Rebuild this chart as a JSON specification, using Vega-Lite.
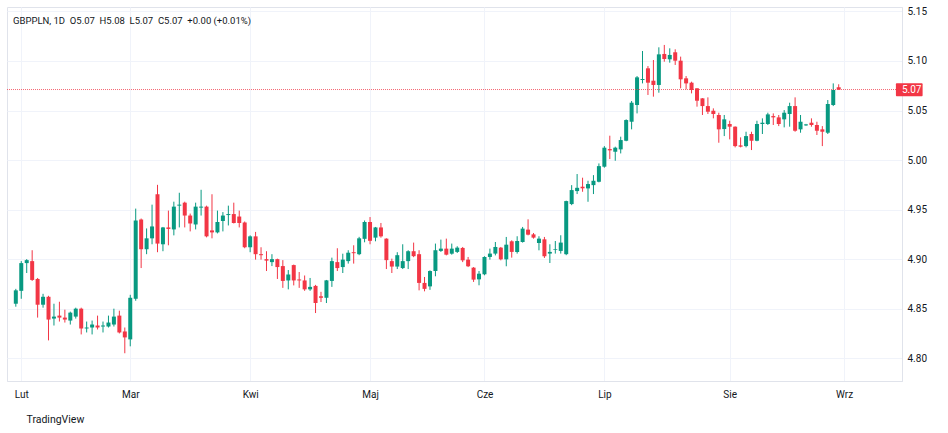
{
  "$schema": "https://vega.github.io/schema/vega-lite/v6.json",
  "width": 895,
  "height": 374,
  "autosize": "none",
  "padding": {"left": 7, "top": 7, "right": 46, "bottom": 52},
  "background": "white",
  "title": {
    "text": "GBPPLN, 1D\u00a0 O5.07\u00a0 H5.08\u00a0 L5.07\u00a0 C5.07\u00a0 +0.00 (+0.01%)",
    "anchor": "start",
    "frame": "group",
    "orient": "top",
    "offset": -19,
    "dx": 6,
    "font": "Roboto",
    "fontSize": 9.5,
    "fontWeight": "normal",
    "color": "#131722"
  },
  "data": {"values": [
    {"i":0,"d":"2026-01-30","o":4.855,"h":4.87,"l":4.852,"c":4.8685},
    {"i":1,"d":"2026-02-02","o":4.868,"h":4.898,"l":4.86,"c":4.896},
    {"i":2,"d":"2026-02-03","o":4.896,"h":4.9,"l":4.886,"c":4.899},
    {"i":3,"d":"2026-02-04","o":4.898,"h":4.909,"l":4.878,"c":4.879},
    {"i":4,"d":"2026-02-05","o":4.88,"h":4.881,"l":4.841,"c":4.854},
    {"i":5,"d":"2026-02-06","o":4.854,"h":4.865,"l":4.851,"c":4.862},
    {"i":6,"d":"2026-02-09","o":4.862,"h":4.863,"l":4.818,"c":4.839},
    {"i":7,"d":"2026-02-10","o":4.84,"h":4.855,"l":4.833,"c":4.842},
    {"i":8,"d":"2026-02-11","o":4.843,"h":4.857,"l":4.837,"c":4.841},
    {"i":9,"d":"2026-02-12","o":4.841,"h":4.849,"l":4.836,"c":4.839},
    {"i":10,"d":"2026-02-13","o":4.838,"h":4.847,"l":4.834,"c":4.846},
    {"i":11,"d":"2026-02-16","o":4.842,"h":4.851,"l":4.84,"c":4.85},
    {"i":12,"d":"2026-02-17","o":4.85,"h":4.851,"l":4.824,"c":4.83},
    {"i":13,"d":"2026-02-18","o":4.83,"h":4.837,"l":4.826,"c":4.831},
    {"i":14,"d":"2026-02-19","o":4.831,"h":4.838,"l":4.824,"c":4.834},
    {"i":15,"d":"2026-02-20","o":4.833,"h":4.843,"l":4.829,"c":4.831},
    {"i":16,"d":"2026-02-23","o":4.832,"h":4.837,"l":4.826,"c":4.833},
    {"i":17,"d":"2026-02-24","o":4.832,"h":4.843,"l":4.831,"c":4.836},
    {"i":18,"d":"2026-02-25","o":4.834,"h":4.85,"l":4.832,"c":4.842},
    {"i":19,"d":"2026-02-26","o":4.843,"h":4.848,"l":4.825,"c":4.826},
    {"i":20,"d":"2026-02-27","o":4.827,"h":4.831,"l":4.805,"c":4.821},
    {"i":21,"d":"2026-03-02","o":4.819,"h":4.864,"l":4.812,"c":4.861},
    {"i":22,"d":"2026-03-03","o":4.86,"h":4.951,"l":4.858,"c":4.939},
    {"i":23,"d":"2026-03-04","o":4.94,"h":4.941,"l":4.891,"c":4.91},
    {"i":24,"d":"2026-03-05","o":4.91,"h":4.931,"l":4.905,"c":4.921},
    {"i":25,"d":"2026-03-06","o":4.921,"h":4.955,"l":4.915,"c":4.933},
    {"i":26,"d":"2026-03-09","o":4.9655,"h":4.975,"l":4.907,"c":4.9157},
    {"i":27,"d":"2026-03-10","o":4.915,"h":4.9325,"l":4.908,"c":4.932},
    {"i":28,"d":"2026-03-11","o":4.932,"h":4.949,"l":4.914,"c":4.9305},
    {"i":29,"d":"2026-03-12","o":4.93,"h":4.958,"l":4.924,"c":4.953},
    {"i":30,"d":"2026-03-13","o":4.954,"h":4.967,"l":4.932,"c":4.955},
    {"i":31,"d":"2026-03-16","o":4.957,"h":4.958,"l":4.932,"c":4.944},
    {"i":32,"d":"2026-03-17","o":4.944,"h":4.946,"l":4.928,"c":4.936},
    {"i":33,"d":"2026-03-18","o":4.935,"h":4.957,"l":4.93,"c":4.953},
    {"i":34,"d":"2026-03-19","o":4.952,"h":4.97,"l":4.944,"c":4.953},
    {"i":35,"d":"2026-03-20","o":4.953,"h":4.954,"l":4.922,"c":4.923},
    {"i":36,"d":"2026-03-23","o":4.929,"h":4.9655,"l":4.921,"c":4.927},
    {"i":37,"d":"2026-03-24","o":4.927,"h":4.949,"l":4.926,"c":4.9375},
    {"i":38,"d":"2026-03-25","o":4.9385,"h":4.9475,"l":4.928,"c":4.944},
    {"i":39,"d":"2026-03-26","o":4.9445,"h":4.954,"l":4.934,"c":4.9455},
    {"i":40,"d":"2026-03-27","o":4.9455,"h":4.957,"l":4.936,"c":4.9365},
    {"i":41,"d":"2026-03-30","o":4.943,"h":4.949,"l":4.932,"c":4.9365},
    {"i":42,"d":"2026-03-31","o":4.937,"h":4.938,"l":4.911,"c":4.912},
    {"i":43,"d":"2026-04-01","o":4.912,"h":4.924,"l":4.907,"c":4.923},
    {"i":44,"d":"2026-04-02","o":4.923,"h":4.9275,"l":4.8995,"c":4.905},
    {"i":45,"d":"2026-04-03","o":4.905,"h":4.912,"l":4.8995,"c":4.904},
    {"i":46,"d":"2026-04-06","o":4.9,"h":4.908,"l":4.888,"c":4.8985},
    {"i":47,"d":"2026-04-07","o":4.897,"h":4.905,"l":4.893,"c":4.9},
    {"i":48,"d":"2026-04-08","o":4.9,"h":4.9005,"l":4.88,"c":4.892},
    {"i":49,"d":"2026-04-09","o":4.893,"h":4.899,"l":4.871,"c":4.878},
    {"i":50,"d":"2026-04-10","o":4.8785,"h":4.889,"l":4.8695,"c":4.8845},
    {"i":51,"d":"2026-04-13","o":4.894,"h":4.8945,"l":4.8735,"c":4.8785},
    {"i":52,"d":"2026-04-14","o":4.8795,"h":4.887,"l":4.871,"c":4.8785},
    {"i":53,"d":"2026-04-15","o":4.8785,"h":4.8835,"l":4.868,"c":4.8695},
    {"i":54,"d":"2026-04-16","o":4.8695,"h":4.881,"l":4.868,"c":4.872},
    {"i":55,"d":"2026-04-17","o":4.873,"h":4.874,"l":4.8456,"c":4.8557},
    {"i":56,"d":"2026-04-20","o":4.8625,"h":4.867,"l":4.8567,"c":4.861},
    {"i":57,"d":"2026-04-21","o":4.861,"h":4.879,"l":4.8557,"c":4.8786},
    {"i":58,"d":"2026-04-22","o":4.878,"h":4.9015,"l":4.872,"c":4.898},
    {"i":59,"d":"2026-04-23","o":4.897,"h":4.911,"l":4.888,"c":4.891},
    {"i":60,"d":"2026-04-24","o":4.892,"h":4.9055,"l":4.886,"c":4.8995},
    {"i":61,"d":"2026-04-27","o":4.898,"h":4.909,"l":4.8955,"c":4.9065},
    {"i":62,"d":"2026-04-28","o":4.907,"h":4.914,"l":4.8955,"c":4.906},
    {"i":63,"d":"2026-04-29","o":4.905,"h":4.9225,"l":4.904,"c":4.921},
    {"i":64,"d":"2026-04-30","o":4.9205,"h":4.939,"l":4.917,"c":4.9375},
    {"i":65,"d":"2026-05-01","o":4.9375,"h":4.9425,"l":4.915,"c":4.9185},
    {"i":66,"d":"2026-05-04","o":4.9217,"h":4.9325,"l":4.918,"c":4.932},
    {"i":67,"d":"2026-05-05","o":4.932,"h":4.9365,"l":4.9217,"c":4.923},
    {"i":68,"d":"2026-05-06","o":4.9207,"h":4.921,"l":4.89,"c":4.899},
    {"i":69,"d":"2026-05-07","o":4.898,"h":4.9005,"l":4.886,"c":4.8925},
    {"i":70,"d":"2026-05-08","o":4.8925,"h":4.907,"l":4.89,"c":4.904},
    {"i":71,"d":"2026-05-11","o":4.891,"h":4.915,"l":4.89,"c":4.898},
    {"i":72,"d":"2026-05-12","o":4.898,"h":4.909,"l":4.89,"c":4.908},
    {"i":73,"d":"2026-05-13","o":4.908,"h":4.9167,"l":4.902,"c":4.903},
    {"i":74,"d":"2026-05-14","o":4.905,"h":4.909,"l":4.8685,"c":4.876},
    {"i":75,"d":"2026-05-15","o":4.876,"h":4.882,"l":4.8675,"c":4.87},
    {"i":76,"d":"2026-05-18","o":4.8725,"h":4.8887,"l":4.869,"c":4.888},
    {"i":77,"d":"2026-05-19","o":4.888,"h":4.9157,"l":4.8827,"c":4.909},
    {"i":78,"d":"2026-05-20","o":4.9083,"h":4.9197,"l":4.9073,"c":4.9106},
    {"i":79,"d":"2026-05-21","o":4.9106,"h":4.9207,"l":4.9038,"c":4.9045},
    {"i":80,"d":"2026-05-22","o":4.9055,"h":4.9157,"l":4.9045,"c":4.9106},
    {"i":81,"d":"2026-05-25","o":4.9073,"h":4.913,"l":4.9062,"c":4.9116},
    {"i":82,"d":"2026-05-26","o":4.9113,"h":4.9123,"l":4.897,"c":4.8988},
    {"i":83,"d":"2026-05-27","o":4.8995,"h":4.9022,"l":4.892,"c":4.8928},
    {"i":84,"d":"2026-05-28","o":4.8914,"h":4.892,"l":4.877,"c":4.8793},
    {"i":85,"d":"2026-05-29","o":4.8796,"h":4.888,"l":4.8736,"c":4.8853},
    {"i":86,"d":"2026-06-01","o":4.8847,"h":4.9029,"l":4.8837,"c":4.9022},
    {"i":87,"d":"2026-06-02","o":4.9022,"h":4.9106,"l":4.8995,"c":4.9056},
    {"i":88,"d":"2026-06-03","o":4.9056,"h":4.9173,"l":4.9038,"c":4.9123},
    {"i":89,"d":"2026-06-04","o":4.9116,"h":4.9123,"l":4.8988,"c":4.8998},
    {"i":90,"d":"2026-06-05","o":4.8998,"h":4.9224,"l":4.8928,"c":4.9146},
    {"i":91,"d":"2026-06-08","o":4.918,"h":4.919,"l":4.9015,"c":4.9073},
    {"i":92,"d":"2026-06-09","o":4.9073,"h":4.9231,"l":4.9056,"c":4.9184},
    {"i":93,"d":"2026-06-10","o":4.9173,"h":4.9325,"l":4.9167,"c":4.9308},
    {"i":94,"d":"2026-06-11","o":4.9298,"h":4.9402,"l":4.924,"c":4.9247},
    {"i":95,"d":"2026-06-12","o":4.925,"h":4.9264,"l":4.9207,"c":4.9217},
    {"i":96,"d":"2026-06-15","o":4.9163,"h":4.9231,"l":4.9089,"c":4.9207},
    {"i":97,"d":"2026-06-16","o":4.92,"h":4.9224,"l":4.9012,"c":4.9029},
    {"i":98,"d":"2026-06-17","o":4.9056,"h":4.915,"l":4.8961,"c":4.9073},
    {"i":99,"d":"2026-06-18","o":4.9093,"h":4.9183,"l":4.9056,"c":4.91},
    {"i":100,"d":"2026-06-19","o":4.9083,"h":4.9241,"l":4.9056,"c":4.9167},
    {"i":101,"d":"2026-06-22","o":4.905,"h":4.959,"l":4.904,"c":4.9586},
    {"i":102,"d":"2026-06-23","o":4.9556,"h":4.9747,"l":4.9545,"c":4.9697},
    {"i":103,"d":"2026-06-24","o":4.9687,"h":4.9859,"l":4.9657,"c":4.972},
    {"i":104,"d":"2026-06-25","o":4.9731,"h":4.9822,"l":4.968,"c":4.9715},
    {"i":105,"d":"2026-06-26","o":4.9714,"h":4.9791,"l":4.9579,"c":4.9758},
    {"i":106,"d":"2026-06-29","o":4.9747,"h":4.9848,"l":4.9657,"c":4.9791},
    {"i":107,"d":"2026-06-30","o":4.9781,"h":4.9966,"l":4.9775,"c":4.9939},
    {"i":108,"d":"2026-07-01","o":4.9933,"h":5.0141,"l":4.9923,"c":5.0125},
    {"i":109,"d":"2026-07-02","o":5.0111,"h":5.0246,"l":5.001,"c":5.0098},
    {"i":110,"d":"2026-07-03","o":5.0084,"h":5.0135,"l":4.9993,"c":5.0125},
    {"i":111,"d":"2026-07-06","o":5.0108,"h":5.0236,"l":5.0067,"c":5.0202},
    {"i":112,"d":"2026-07-07","o":5.0195,"h":5.0411,"l":5.019,"c":5.0404},
    {"i":113,"d":"2026-07-08","o":5.0387,"h":5.0596,"l":5.031,"c":5.0579},
    {"i":114,"d":"2026-07-09","o":5.0556,"h":5.0848,"l":5.0471,"c":5.0835},
    {"i":115,"d":"2026-07-10","o":5.0808,"h":5.1101,"l":5.0774,"c":5.0818},
    {"i":116,"d":"2026-07-13","o":5.0926,"h":5.0949,"l":5.0657,"c":5.0781},
    {"i":117,"d":"2026-07-14","o":5.0801,"h":5.101,"l":5.064,"c":5.0758},
    {"i":118,"d":"2026-07-15","o":5.0758,"h":5.1138,"l":5.068,"c":5.1067},
    {"i":119,"d":"2026-07-16","o":5.1071,"h":5.1162,"l":5.0993,"c":5.102},
    {"i":120,"d":"2026-07-17","o":5.1017,"h":5.1128,"l":5.0983,"c":5.1061},
    {"i":121,"d":"2026-07-20","o":5.1088,"h":5.1118,"l":5.096,"c":5.1003},
    {"i":122,"d":"2026-07-21","o":5.1003,"h":5.1044,"l":5.0724,"c":5.0815},
    {"i":123,"d":"2026-07-22","o":5.0825,"h":5.0848,"l":5.0714,"c":5.0774},
    {"i":124,"d":"2026-07-23","o":5.0781,"h":5.0791,"l":5.0673,"c":5.0707},
    {"i":125,"d":"2026-07-24","o":5.0724,"h":5.0726,"l":5.0539,"c":5.0599},
    {"i":126,"d":"2026-07-27","o":5.0623,"h":5.0625,"l":5.0455,"c":5.0545},
    {"i":127,"d":"2026-07-28","o":5.0545,"h":5.0633,"l":5.0465,"c":5.0488},
    {"i":128,"d":"2026-07-29","o":5.0498,"h":5.0522,"l":5.0421,"c":5.0465},
    {"i":129,"d":"2026-07-30","o":5.0455,"h":5.0478,"l":5.0175,"c":5.031},
    {"i":130,"d":"2026-07-31","o":5.0313,"h":5.0455,"l":5.0242,"c":5.0411},
    {"i":131,"d":"2026-08-03","o":5.0364,"h":5.0397,"l":5.0209,"c":5.0337},
    {"i":132,"d":"2026-08-04","o":5.0337,"h":5.034,"l":5.0128,"c":5.0141},
    {"i":133,"d":"2026-08-05","o":5.0148,"h":5.0229,"l":5.0128,"c":5.0135},
    {"i":134,"d":"2026-08-06","o":5.0141,"h":5.0286,"l":5.0128,"c":5.0242},
    {"i":135,"d":"2026-08-07","o":5.0263,"h":5.0286,"l":5.0101,"c":5.0195},
    {"i":136,"d":"2026-08-10","o":5.0195,"h":5.0397,"l":5.019,"c":5.0364},
    {"i":137,"d":"2026-08-11","o":5.0364,"h":5.0421,"l":5.0263,"c":5.0377},
    {"i":138,"d":"2026-08-12","o":5.0364,"h":5.0478,"l":5.0354,"c":5.0461},
    {"i":139,"d":"2026-08-13","o":5.0444,"h":5.0471,"l":5.0354,"c":5.0431},
    {"i":140,"d":"2026-08-14","o":5.0431,"h":5.0455,"l":5.0343,"c":5.0364},
    {"i":141,"d":"2026-08-17","o":5.0411,"h":5.0505,"l":5.033,"c":5.0478},
    {"i":142,"d":"2026-08-18","o":5.0465,"h":5.0579,"l":5.0337,"c":5.0545},
    {"i":143,"d":"2026-08-19","o":5.0545,"h":5.0633,"l":5.0286,"c":5.0296},
    {"i":144,"d":"2026-08-20","o":5.031,"h":5.0455,"l":5.0276,"c":5.0387},
    {"i":145,"d":"2026-08-21","o":5.035,"h":5.0365,"l":5.0345,"c":5.036},
    {"i":146,"d":"2026-08-24","o":5.0377,"h":5.0421,"l":5.0337,"c":5.0354},
    {"i":147,"d":"2026-08-25","o":5.0354,"h":5.0387,"l":5.0253,"c":5.0296},
    {"i":148,"d":"2026-08-26","o":5.031,"h":5.0343,"l":5.0141,"c":5.0286},
    {"i":149,"d":"2026-08-27","o":5.0276,"h":5.0606,"l":5.0263,"c":5.0566},
    {"i":150,"d":"2026-08-28","o":5.0556,"h":5.0774,"l":5.0545,"c":5.0707},
    {"i":151,"d":"2026-08-31","o":5.0735,"h":5.0765,"l":5.0708,"c":5.0712}
  ]},
  "layer": [
    {
      "mark": {"type": "rule", "strokeWidth": 1},
      "encoding": {
        "x": {
          "field": "i", "type": "quantitative",
          "scale": {"domain": [-0.7, 161.7], "nice": false, "zero": false},
          "axis": {
            "orient": "bottom",
            "values": [1, 21, 43, 65, 86, 108, 131, 152],
            "labelExpr": "['Lut','Mar','Kwi','Maj','Cze','Lip','Sie','Wrz'][indexof([1,21,43,65,86,108,131,152], datum.value)]",
            "grid": true, "gridColor": "#f0f3fa",
            "ticks": false, "domainColor": "#e0e3eb",
            "labelPadding": 8, "labelFlush": false, "labelOverlap": false,
            "labelFont": "Roboto", "labelFontSize": 10, "labelColor": "#131722",
            "title": "TradingView", "titleAnchor": "start", "titleAlign": "left",
            "titleX": 19, "titleY": 38, "titleBaseline": "middle",
            "titleFont": "Roboto", "titleFontSize": 10.5, "titleFontWeight": "normal", "titleColor": "#131722"
          }
        },
        "y": {
          "field": "l", "type": "quantitative",
          "scale": {"domain": [4.777, 5.1545], "nice": false, "zero": false},
          "axis": {
            "orient": "right",
            "values": [4.8, 4.85, 4.9, 4.95, 5.0, 5.05, 5.1, 5.15],
            "format": ".2f", "title": null,
            "grid": true, "gridColor": "#f0f3fa",
            "ticks": false, "domainColor": "#e0e3eb",
            "labelPadding": 5,
            "labelFont": "Roboto", "labelFontSize": 10, "labelColor": "#131722"
          }
        },
        "y2": {"field": "h"},
        "color": {"condition": {"test": "datum.c >= datum.o", "value": "#089981"}, "value": "#f23645"}
      }
    },
    {
      "mark": {"type": "bar", "width": 4},
      "encoding": {
        "x": {"field": "i", "type": "quantitative"},
        "y": {"field": "o", "type": "quantitative"},
        "y2": {"field": "c"},
        "color": {"condition": {"test": "datum.c >= datum.o", "value": "#089981"}, "value": "#f23645"},
        "tooltip": [
          {"field": "d", "type": "nominal", "title": "Data"},
          {"field": "o", "type": "quantitative", "title": "O"},
          {"field": "h", "type": "quantitative", "title": "H"},
          {"field": "l", "type": "quantitative", "title": "L"},
          {"field": "c", "type": "quantitative", "title": "C"}
        ]
      }
    },
    {
      "data": {"values": [{"last": 5.0712, "label": "5.07", "x0": 161.5, "x1": 166.4, "y0": 5.0776, "y1": 5.0645, "tx": 162.6}]},
      "layer": [
        {
          "mark": {"type": "rule", "color": "#f23645", "stroke": "#f23645", "strokeDash": [1, 1], "strokeWidth": 1, "opacity": 0.75},
          "encoding": {
            "y": {"field": "last", "type": "quantitative"}
          }
        },
        {
          "mark": {"type": "rect", "fill": "#f23645", "clip": false, "cornerRadius": 1},
          "encoding": {
            "x": {"field": "x0", "type": "quantitative"},
            "x2": {"field": "x1"},
            "y": {"field": "y0", "type": "quantitative"},
            "y2": {"field": "y1"}
          }
        },
        {
          "mark": {"type": "text", "fill": "white", "clip": false, "align": "left", "baseline": "middle", "font": "Roboto", "fontSize": 10},
          "encoding": {
            "x": {"field": "tx", "type": "quantitative"},
            "y": {"field": "last", "type": "quantitative"},
            "text": {"field": "label"}
          }
        }
      ]
    }
  ],
  "config": {
    "view": {"stroke": "#e0e3eb"}
  }
}
